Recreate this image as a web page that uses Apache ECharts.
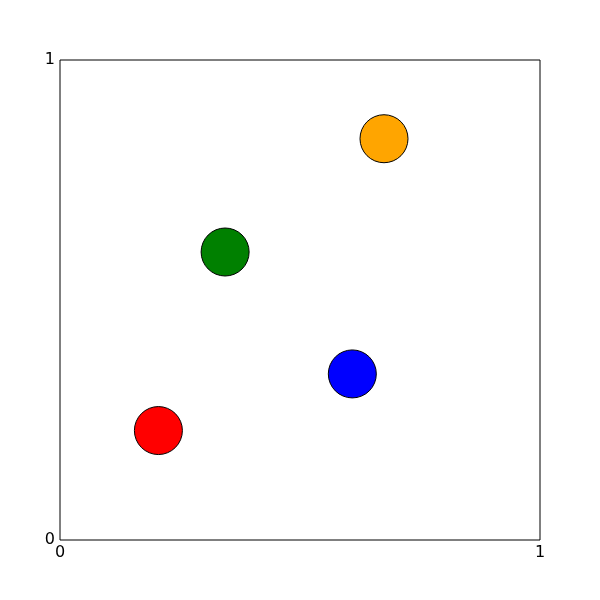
<!DOCTYPE html>
<html><head><meta charset="utf-8">
<script src="https://cdn.jsdelivr.net/npm/echarts@6/dist/echarts.min.js"></script>
<style>html,body{margin:0;padding:0;background:#fff}#c{width:600px;height:600px}</style>
</head><body><div id="c"></div>
<script>
const xs = [0.205, 0.344, 0.609, 0.675];
const ys = [0.228, 0.600, 0.346, 0.836];
const colors = ['#ff0000', '#008000', '#0000ff', '#ffa500'];
const tickLabels = ['0', '1'];

const chart = echarts.init(document.getElementById('c'), null, {renderer: 'canvas'});
const axisCommon = {
  min: 0, max: 1, interval: 1,
  axisLine: {show: false}, axisTick: {show: false}, splitLine: {show: false},
  axisLabel: {color: '#000', fontSize: 16, fontFamily: 'DejaVu Sans',
    formatter: v => tickLabels[Math.round(v)]}
};
chart.setOption({
  animation: false,
  grid: {left: 60, top: 60, width: 480, height: 480, show: true, borderColor: '#000', borderWidth: 1, backgroundColor: '#fff'},
  xAxis: Object.assign({type: 'value'}, axisCommon, {axisLabel: Object.assign({}, axisCommon.axisLabel, {margin: 5})}),
  yAxis: Object.assign({type: 'value'}, axisCommon, {axisLabel: Object.assign({}, axisCommon.axisLabel, {margin: 5})}),
  series: [{
    type: 'scatter',
    symbolSize: 48,
    data: xs.map((x, i) => ({value: [x, ys[i]], itemStyle: {color: colors[i]}})),
    itemStyle: {borderColor: '#000', borderWidth: 1, opacity: 1}
  }]
});
</script></body></html>
